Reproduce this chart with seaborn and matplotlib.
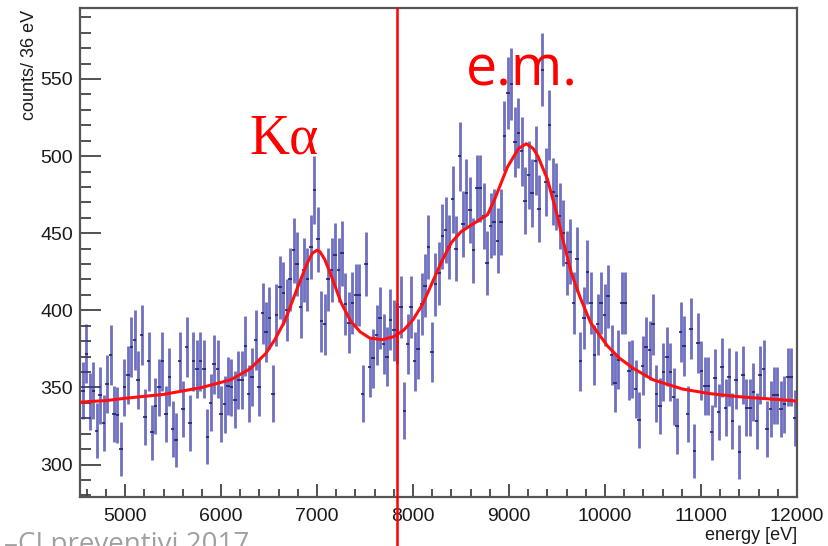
import numpy as np
import pandas as pd
import matplotlib
matplotlib.use("Agg")
import matplotlib.pyplot as plt
import matplotlib.transforms as mtransforms
from matplotlib.ticker import MultipleLocator
import seaborn as sns

# Histogram: 36 eV bins, counts per bin
bin_width = 36.0
first_center = 4560.0
counts = [
    # 4560 - 5748 eV
    348, 372, 341, 348, 322, 345, 327, 352, 371, 333,
    332, 310, 350, 358, 376, 381, 355, 384, 331, 367,
    321, 338, 350, 367, 333, 357, 323, 316, 367, 336,
    376, 327, 367, 362,
    # 5784 - 7008 eV
    367, 362, 318, 340, 365, 362, 333, 339, 351, 350,
    342, 355, 355, 377, 346, 357, 381, 350, 398, 386,
    395, 346, 397, 415, 411, 400, 420, 439, 430, 402,
    426, 420, 441, 478, 446,
    # 7044 - 8268 eV
    393, 391, 420, 426, 436, 426, 437, 404, 392, 405,
    410, 410, 346, 430, 363, 369, 384, 395, 378, 370,
    394, 387, 385, 402, 335, 378, 402, 367, 375, 404,
    416, 441, 373, 417, 424,
    # 8304 - 9528 eV
    448, 452, 441, 472, 440, 500, 456, 476, 465, 439,
    479, 479, 461, 431, 455, 457, 445, 457, 513, 541,
    547, 509, 515, 503, 471, 488, 476, 497, 466, 556,
    483, 520, 477, 474, 461,
    # 9564 - 10716 eV
    450, 431, 438, 405, 433, 367, 395, 425, 405, 371,
    391, 405, 397, 409, 371, 353, 368, 405, 405, 361,
    362, 349, 329, 364, 376, 374, 391, 346, 338, 360,
    370, 360, 344,
    # 10752 - 11976 eV
    325, 386, 377, 333, 388, 309, 379, 361, 351, 351,
    321, 356, 334, 363, 337, 357, 328, 355, 308, 358,
    337, 337, 347, 328, 358, 362, 323, 336, 345, 345,
    336, 339, 357, 357, 330,
]

# Fitted model (background + K-alpha + e.m. peaks), sampled along the energy axis
fit_energy = [4530, 4800, 5000, 5400, 5800, 6100, 6300, 6465, 6560, 6663,
              6798, 6900, 6950, 7000, 7030, 7080, 7150, 7250, 7350, 7450,
              7550, 7683, 7800, 7900, 8000, 8100, 8200, 8300, 8400, 8500,
              8600, 8700, 8776, 8850, 8984, 9100, 9180, 9250, 9300, 9400,
              9500, 9556, 9650, 9743, 9850, 10024, 10150, 10305, 10500, 10805,
              11096, 11400, 11616, 11950, 12000]
fit_counts = [340.5, 341.5, 343, 345.5, 350, 355, 362, 372, 381, 393,
              415, 431, 437, 439, 438, 433, 422, 405, 393, 386,
              382, 381, 383, 387, 394, 404, 418, 432, 444, 451,
              455, 459, 462, 472, 493, 505, 508, 505, 500, 485,
              462, 447, 424, 408, 392, 377, 369, 362, 355, 349,
              346, 344, 343, 341.5, 341]

cut_energy = 7830
x_ticks_major = [5000, 6000, 7000, 8000, 9000, 10000, 11000, 12000]
y_ticks_major = [300, 350, 400, 450, 500, 550]

energy = first_center + bin_width * np.arange(len(counts))
hist = pd.DataFrame({"energy": energy, "counts": np.array(counts, float)})
hist["err"] = np.sqrt(hist["counts"])
fit = pd.DataFrame({"energy": fit_energy, "counts": fit_counts})

sns.set_theme(style="white")
plt.rcParams["font.family"] = ["Liberation Sans", "DejaVu Sans"]

W, H = 829, 546
fig = plt.figure(figsize=(W / 100, H / 100), dpi=100)
ax = fig.add_axes([80 / W, 1 - 497 / H, (797 - 80) / W, (497 - 8) / H])

# data points with Poisson errors and bin-width bars
ax.errorbar(hist["energy"], hist["counts"], yerr=hist["err"], fmt="none",
            ecolor=(0.2, 0.2, 0.66), elinewidth=2.0, alpha=0.7, zorder=2)
ax.errorbar(hist["energy"], hist["counts"], xerr=bin_width / 2, fmt="none",
            ecolor=(0.1, 0.1, 0.42), elinewidth=1.2, alpha=0.95, zorder=3)

# fitted curve
sns.lineplot(data=fit, x="energy", y="counts", ax=ax, color="#ff1010",
             linewidth=2.2, zorder=4, legend=False)

ax.set_xlim(4530, 12000)
ax.set_ylim(279, 596)
ax.set_xlabel("")
ax.set_ylabel("")

ax.xaxis.set_major_locator(plt.FixedLocator(x_ticks_major))
ax.xaxis.set_minor_locator(MultipleLocator(200))
ax.yaxis.set_major_locator(plt.FixedLocator(y_ticks_major))
ax.yaxis.set_minor_locator(MultipleLocator(10))
ax.tick_params(axis="both", which="both", direction="in", color="#444444",
               width=1.3, top=False, right=False, bottom=True, left=True)
ax.tick_params(axis="y", which="major", length=15, pad=5, labelsize=14,
               labelcolor="#1a1a1a")
ax.tick_params(axis="y", which="minor", length=8)
ax.tick_params(axis="x", which="major", length=9.5, pad=8, labelsize=14,
               labelcolor="#1a1a1a")
ax.tick_params(axis="x", which="minor", length=5.5)
for s in ax.spines.values():
    s.set_visible(True)
    s.set_color("#555555")
    s.set_linewidth(1.6)

# vertical cut line running past the axis down to the page edge
trans = mtransforms.blended_transform_factory(ax.transData, ax.transAxes)
ax.plot([cut_energy, cut_energy], [1.0, -0.11], transform=trans, color="#ff0000",
        linewidth=1.8, clip_on=False, zorder=6)

# annotations
fig.text(249 / W, 1 - 153 / H, "Kα", color="#ff0000", fontsize=40,
         family=["Liberation Serif", "DejaVu Serif"], ha="left", va="baseline")
fig.text(466 / W, 1 - 85 / H, "e.m.", color="#ff0000", fontsize=40,
         family=["Open Sans", "DejaVu Sans"], ha="left", va="baseline")

fig.text(30 / W, 1 - 10 / H, "counts/ 36 eV", rotation=90, ha="center", va="top",
         fontsize=13, color="#1a1a1a")
fig.text(797 / W, 1 - 536 / H, "energy [eV]", ha="right", va="center",
         fontsize=13, color="#1a1a1a")

# footer of the slide, running off the bottom edge
fig.text(4 / W, 1 - 531 / H, "–CI preventivi 2017", ha="left", va="top",
         fontsize=20, color="#a0a0a0", family=["Open Sans", "DejaVu Sans"])

fig.savefig("out.png", dpi=100, facecolor="white")
